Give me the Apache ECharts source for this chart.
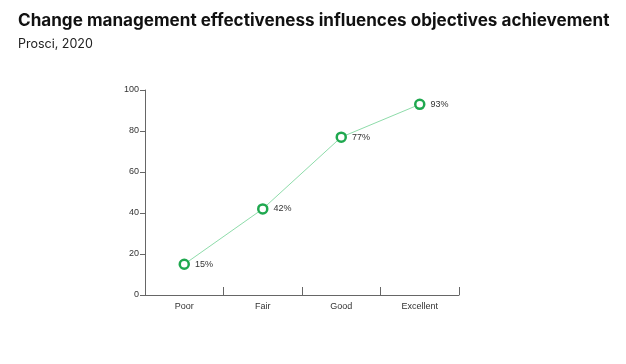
<!DOCTYPE html>
<html><head><meta charset="utf-8">
<script src="https://cdn.jsdelivr.net/npm/echarts@6/dist/echarts.min.js"></script>
<style>html,body{margin:0;padding:0;background:#fff}#c{width:626px;height:364px}</style>
</head><body><div id="c"></div>
<script>
const titleText = "Change management effectiveness influences objectives achievement";
const subtitleText = "Prosci, 2020";
const categories = ["Poor", "Fair", "Good", "Excellent"];
const values = [15, 42, 77, 93];
const yTicks = [0, 20, 40, 60, 80, 100];

const chart = echarts.init(document.getElementById('c'), null, {renderer: 'canvas'});
chart.setOption({
  animation: false,
  backgroundColor: '#fff',
  title: {
    text: titleText, subtext: subtitleText, left: 18, top: 12, itemGap: 9, padding: 0,
    textStyle: {fontFamily: 'Inter', fontWeight: 'bold', fontSize: 17.1, color: '#111'},
    subtextStyle: {fontFamily: 'Inter', fontSize: 12.5, color: '#222'}
  },
  grid: {left: 145, right: 167, top: 90, bottom: 69, containLabel: false},
  xAxis: {
    type: 'category', data: categories, boundaryGap: true,
    axisLine: {lineStyle: {color: '#666', width: 1}},
    axisTick: {show: true, inside: true, length: 8, lineStyle: {color: '#666'}},
    axisLabel: {color: '#333', fontSize: 9, fontFamily: 'Liberation Sans', margin: 7}
  },
  yAxis: {
    type: 'value', min: yTicks[0], max: yTicks[yTicks.length - 1], interval: 20,
    splitLine: {show: false},
    axisLine: {show: true, lineStyle: {color: '#666', width: 1}},
    axisTick: {show: true, length: 5, lineStyle: {color: '#666'}},
    axisLabel: {color: '#333', fontSize: 9, fontFamily: 'Liberation Sans', margin: 6}
  },
  series: [{
    type: 'line', data: values,
    symbol: 'circle', symbolSize: 9,
    lineStyle: {color: '#8edcaa', width: 1},
    itemStyle: {color: '#fff', borderColor: '#1fa84f', borderWidth: 2.5},
    label: {show: true, position: 'right', distance: 5, formatter: '{c}%', color: '#333', fontSize: 9, fontFamily: 'Liberation Sans'}
  }]
});
</script></body></html>
